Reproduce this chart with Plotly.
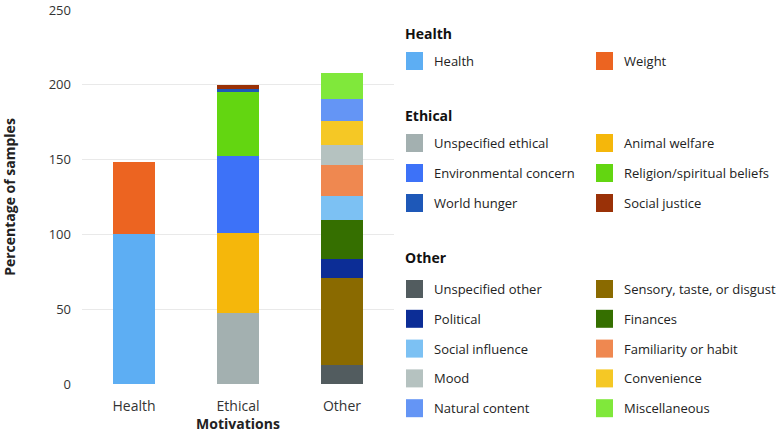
import plotly.graph_objects as go

# ---- data ----
groups = ["Health", "Ethical", "Other"]

health_labels = ["Health", "Weight"]
health_values = [100, 48.5]
health_colors = ["#5DAEF3", "#EC6421"]

ethical_labels = ["Unspecified ethical", "Animal welfare", "Environmental concern",
                  "Religion/spiritual beliefs", "World hunger", "Social justice"]
ethical_values = [47.5, 53.6, 51.0, 43.3, 1.6, 3.0]
ethical_colors = ["#A3B0B0", "#F5B70B", "#3D72F8", "#63D611", "#1E58B8", "#9A3107"]

other_labels = ["Unspecified other", "Sensory, taste, or disgust", "Political", "Finances",
                "Social influence", "Familiarity or habit", "Mood", "Convenience",
                "Natural content", "Miscellaneous"]
other_values = [13.0, 58.0, 12.3, 26.4, 15.8, 21.0, 13.2, 15.9, 15.1, 17.4]
other_colors = ["#525C5F", "#8A6A00", "#0C2D96", "#356F00", "#7CC1F3", "#EF8850",
                "#B5C2C0", "#F5C825", "#6495F5", "#80E83B"]

y_ticks = [0, 50, 100, 150, 200, 250]

# legend layout order (two columns, row-major)
health_legend = ["Health", "Weight"]
ethical_legend = ["Unspecified ethical", "Animal welfare", "Environmental concern",
                  "Religion/spiritual beliefs", "World hunger", "Social justice"]
other_legend = ["Unspecified other", "Sensory, taste, or disgust", "Political", "Finances",
                "Social influence", "Familiarity or habit", "Mood", "Convenience",
                "Natural content", "Miscellaneous"]

FONT = "Open Sans"
W, H = 777, 433
# plot area in page pixels: x 82..394, y 10..384
L, R, T, B = 82, 777 - 394, 10, 433 - 384

fig = go.Figure()
for grp, labs, vals, cols in [("Health", health_labels, health_values, health_colors),
                              ("Ethical", ethical_labels, ethical_values, ethical_colors),
                              ("Other", other_labels, other_values, other_colors)]:
    for lab, v, c in zip(labs, vals, cols):
        fig.add_trace(go.Bar(x=[grp], y=[v], name=lab, marker=dict(color=c, line=dict(width=0)),
                             showlegend=False, width=0.4))

fig.update_layout(
    width=W, height=H, barmode="stack",
    margin=dict(l=L, r=R, t=T, b=B, autoexpand=False),
    plot_bgcolor="white", paper_bgcolor="white",
    font=dict(family=FONT, size=13, color="#333333"),
    xaxis=dict(categoryorder="array", categoryarray=groups, showline=False, ticks="",
               tickfont=dict(size=14, color="#333333"), ticklabelstandoff=12,
               title=dict(text="<b>Motivations</b>", font=dict(size=14, color="#222222"), standoff=2)),
    yaxis=dict(range=[0, 250], tickvals=y_ticks, showgrid=True,
               gridcolor="#e9e9e9", gridwidth=1, zeroline=False, showline=False,
               tickfont=dict(size=13, color="#333333"), ticklabelstandoff=10,
               ticklabeloverflow="allow",
               title=dict(text="<b>Percentage of samples</b>", font=dict(size=14, color="#222222"),
                          standoff=32)),
)

pw = W - L - R
ph = H - T - B

def px_x(px):
    return (px - L) / pw

def px_y(py):
    return (H - B - py) / ph

shapes = []
annots = []

def add_title(text, py):
    annots.append(dict(x=px_x(403), y=px_y(py), xref="paper", yref="paper", text="<b>%s</b>" % text,
                       showarrow=False, xanchor="left", yanchor="middle",
                       font=dict(family=FONT, size=14, color="#111111")))

def add_entry(label, color, col, py):
    sx = 406 if col == 0 else 596
    tx = 432 if col == 0 else 622
    shapes.append(dict(type="rect", xref="paper", yref="paper",
                       x0=px_x(sx), x1=px_x(sx + 17), y0=px_y(py + 9), y1=px_y(py - 9),
                       fillcolor=color, line=dict(width=0)))
    annots.append(dict(x=px_x(tx), y=px_y(py), xref="paper", yref="paper", text=label,
                       showarrow=False, xanchor="left", yanchor="middle",
                       font=dict(family=FONT, size=13, color="#222222")))

cmap = {}
for labs, cols in [(health_labels, health_colors), (ethical_labels, ethical_colors),
                   (other_labels, other_colors)]:
    cmap.update(dict(zip(labs, cols)))

add_title("Health", 33)
for i, lab in enumerate(health_legend):
    add_entry(lab, cmap[lab], i % 2, 61 + 30 * (i // 2))

add_title("Ethical", 115)
for i, lab in enumerate(ethical_legend):
    add_entry(lab, cmap[lab], i % 2, 143 + 30 * (i // 2))

add_title("Other", 257)
for i, lab in enumerate(other_legend):
    add_entry(lab, cmap[lab], i % 2, 289 + 29.8 * (i // 2))

fig.update_layout(shapes=shapes, annotations=annots)
fig.write_html("out.html", config={"displayModeBar": False},
               post_script="document.body.style.margin='0';document.body.style.overflow='hidden';")
